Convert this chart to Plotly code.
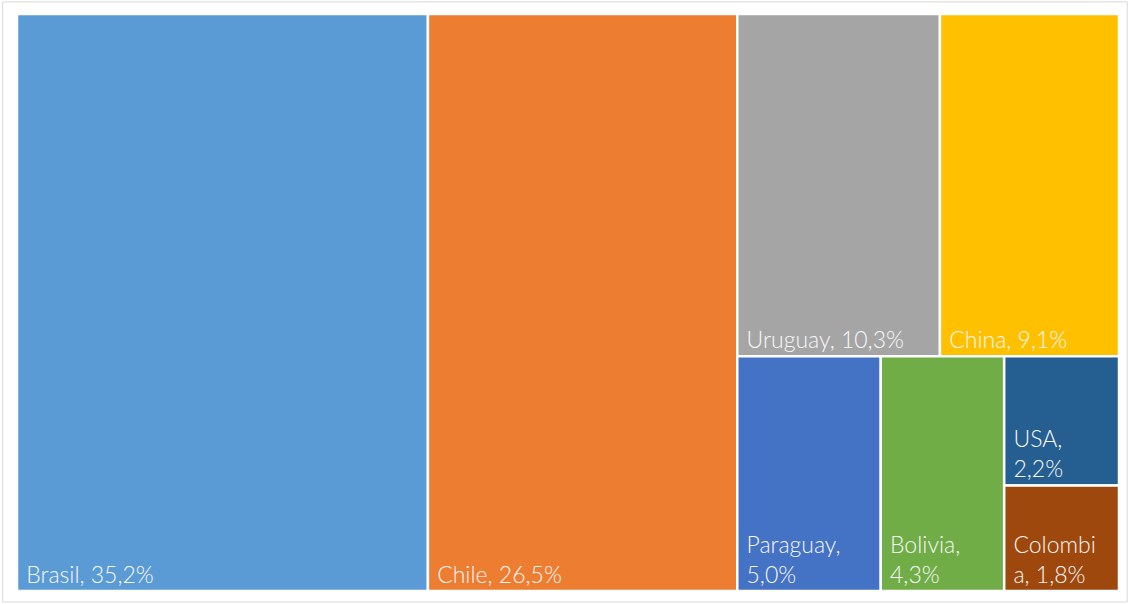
"""
Treemap: participación por país
"""

import plotly.graph_objects as go

# data
countries = ['Brasil', 'Chile', 'Uruguay', 'China', 'Paraguay', 'Bolivia', 'USA', 'Colombia']
shares = [35.2, 26.5, 10.3, 9.1, 5.0, 4.3, 2.2, 1.8]
tile_text = ['Brasil, 35,2%', 'Chile, 26,5%', 'Uruguay, 10,3%', 'China, 9,1%',
             'Paraguay,<br>5,0%', 'Bolivia,<br>4,3%', 'USA,<br>2,2%', 'Colombi<br>a, 1,8%']
colors = ['#5B9BD5', '#ED7D31', '#A5A5A5', '#FFC000',
          '#4472C4', '#70AD47', '#255E91', '#9E480E']

# small indent like the Excel labels
shown_text = ['\u00a0' + t.replace('<br>', '<br>\u00a0') for t in tile_text]

fig = go.Figure()

fig.add_trace(go.Treemap(
    labels=countries,
    parents=[''] * len(countries),
    values=shares,
    text=shown_text,
    texttemplate='%{text}',
    textposition='bottom left',
    textfont=dict(family='Century Gothic, Lato, DejaVu Sans, sans-serif', size=23,
                  weight=300, color='#F8F8F8'),
    marker=dict(colors=colors, line=dict(color='white', width=2.5),
                pad=dict(t=0, l=0, r=0, b=0)),
    tiling=dict(packing='squarify', pad=0),
    pathbar=dict(visible=False),
    sort=True,
    hoverinfo='label+value',
))

fig.update_layout(
    width=1129,
    height=604,
    margin=dict(l=17, r=10, t=14, b=13),
    paper_bgcolor='white',
    uniformtext=dict(minsize=23, mode='show'),
    shapes=[dict(type='rect', xref='paper', yref='paper',
                 x0=-0.013, x1=1.0075, y0=-0.019, y1=1.021,
                 line=dict(color='#D9D9D9', width=1))],
)

fig.write_html("out.html", config={'displayModeBar': False},
               post_script="document.body.style.margin='0';")
